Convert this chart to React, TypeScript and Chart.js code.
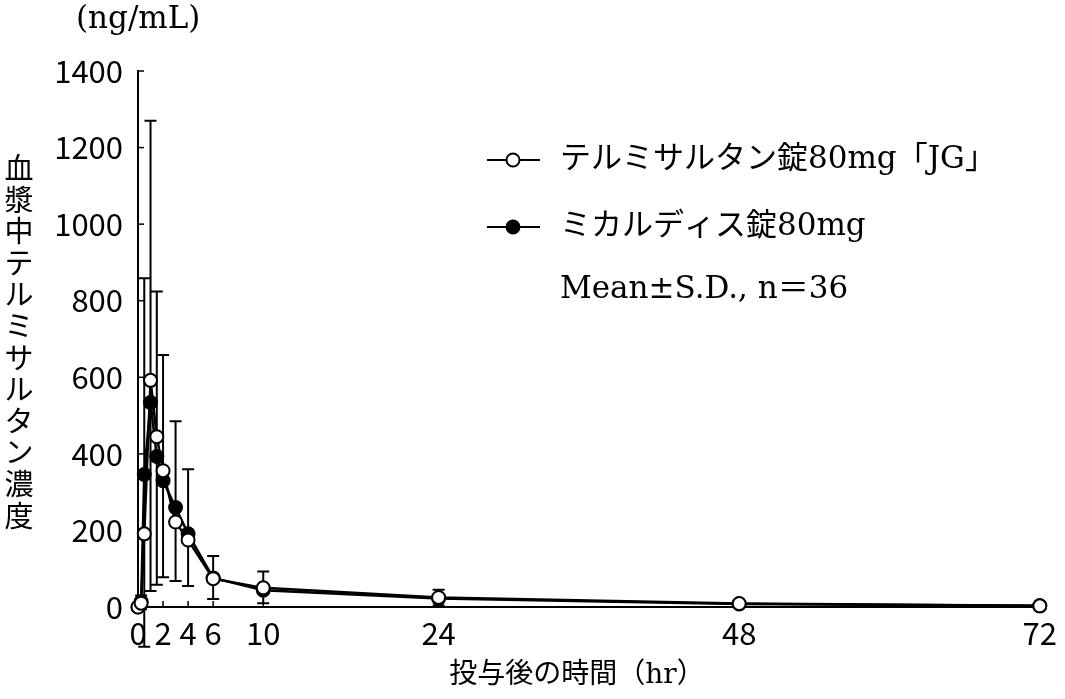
import React, { useEffect, useRef } from "react";
import { Chart, registerables } from "chart.js";

Chart.register(...registerables);

// ---- data ----
const TIMES = [0, 0.25, 0.5, 1, 1.5, 2, 3, 4, 6, 10, 24, 48, 72];
const JG_MEAN = [0, 10, 191, 592, 445, 356, 222, 175, 74, 50, 25, 9, 3];
const JG_SD = [0, 20, 668, 678, 379, 302, 263, 185, 59, 43, 20, 6, 3];
const MIC_MEAN = [0, 14, 346, 534, 393, 330, 260, 191, 76, 44, 22, 8, 3];
const MIC_SD = [0, 20, 450, 492, 335, 252, 192, 136, 55, 34, 18, 5, 3];

const X_TICKS = [0, 2, 4, 6, 10, 24, 48, 72];
const Y_MIN = 0;
const Y_MAX = 1400;
const Y_STEP = 200;

const SERIES_LABELS = ["テルミサルタン錠80mg「JG」", "ミカルディス錠80mg"];
const NOTE_TEXT = "Mean±S.D., n＝36";
const Y_TITLE = "血漿中テルミサルタン濃度";
const Y_UNIT = "(ng/mL)";
const X_TITLE = "投与後の時間（hr）";

const MIX_FONT = "'DejaVu Serif', 'Noto Sans CJK JP'";
const CJK_FONT = "'Noto Sans CJK JP'";

const decorPlugin = {
  id: "decor",
  beforeDatasetsDraw(chart: any) {
    const { ctx } = chart;
    const xs = chart.scales.x;
    const ys = chart.scales.y;
    ctx.save();
    ctx.strokeStyle = "#000";
    ctx.lineWidth = 2;
    const bar = (t: number, m: number, e: number) => {
      const x = xs.getPixelForValue(t);
      const y0 = ys.getPixelForValue(m);
      const y1 = ys.getPixelForValue(e);
      ctx.beginPath();
      ctx.moveTo(x, y0);
      ctx.lineTo(x, y1);
      ctx.moveTo(x - 6, y1);
      ctx.lineTo(x + 6, y1);
      ctx.stroke();
    };
    TIMES.forEach((t, i) => {
      if (JG_SD[i] > 0) bar(t, JG_MEAN[i], JG_MEAN[i] + JG_SD[i]);
      if (MIC_SD[i] > 0) bar(t, MIC_MEAN[i], MIC_MEAN[i] - MIC_SD[i]);
    });
    // inward tick marks
    ctx.lineWidth = 1.5;
    X_TICKS.forEach((v) => {
      const x = xs.getPixelForValue(v);
      ctx.beginPath();
      ctx.moveTo(x, ys.bottom);
      ctx.lineTo(x, ys.bottom - 6);
      ctx.stroke();
    });
    ys.ticks.forEach((tk: any) => {
      const y = ys.getPixelForValue(tk.value);
      ctx.beginPath();
      ctx.moveTo(xs.left, y);
      ctx.lineTo(xs.left + 6, y);
      ctx.stroke();
    });
    ctx.restore();
  },
  afterDraw(chart: any) {
    const { ctx } = chart;
    ctx.save();
    ctx.fillStyle = "#000";
    ctx.strokeStyle = "#000";
    // unit
    ctx.font = `31px ${MIX_FONT}`;
    ctx.textAlign = "left";
    ctx.textBaseline = "middle";
    ctx.fillText(Y_UNIT, 76, 20);
    // vertical y title
    ctx.font = `29px ${CJK_FONT}`;
    ctx.textAlign = "center";
    Array.from(Y_TITLE).forEach((ch, i) => {
      ctx.fillText(ch, 19, 168 + i * 31.6);
    });
    // x title
    ctx.font = `28px ${MIX_FONT}`;
    ctx.fillText(X_TITLE, 577, 676);
    // legend
    const rows = [160, 227];
    rows.forEach((y, i) => {
      ctx.lineWidth = 2;
      ctx.beginPath();
      ctx.moveTo(487, y);
      ctx.lineTo(540, y);
      ctx.stroke();
      ctx.beginPath();
      ctx.arc(513, y, 6.5, 0, Math.PI * 2);
      ctx.fillStyle = i === 0 ? "#fff" : "#000";
      ctx.fill();
      ctx.stroke();
      ctx.fillStyle = "#000";
      ctx.font = `31px ${MIX_FONT}`;
      ctx.textAlign = "left";
      ctx.fillText(SERIES_LABELS[i], 560, y);
    });
    ctx.fillText(NOTE_TEXT, 560, 290);
    ctx.restore();
  },
};

export default function App() {
  const ref = useRef<HTMLCanvasElement | null>(null);
  useEffect(() => {
    if (!ref.current) return;
    const chart = new Chart(ref.current, {
      type: "line",
      data: {
        datasets: [
          {
            label: SERIES_LABELS[0],
            data: TIMES.map((t, i) => ({ x: t, y: JG_MEAN[i] })),
            borderColor: "#000",
            borderWidth: 2.5,
            pointRadius: 6.5,
            pointBorderWidth: 2,
            pointBackgroundColor: "#fff",
            pointBorderColor: "#000",
            tension: 0,
            clip: false as any,
          },
          {
            label: SERIES_LABELS[1],
            data: TIMES.map((t, i) => ({ x: t, y: MIC_MEAN[i] })),
            borderColor: "#000",
            borderWidth: 2.5,
            pointRadius: 6.5,
            pointBorderWidth: 2,
            pointBackgroundColor: "#000",
            pointBorderColor: "#000",
            tension: 0,
            clip: false as any,
          },
        ],
      },
      options: {
        responsive: false,
        animation: false,
        layout: { padding: { left: 0, top: 71, right: 22, bottom: 0 } },
        plugins: { legend: { display: false }, tooltip: { enabled: false } },
        scales: {
          x: {
            type: "linear",
            min: 0,
            max: 72,
            afterBuildTicks: (s: any) => {
              s.ticks = X_TICKS.map((v) => ({ value: v }));
            },
            afterFit: (s: any) => {
              s.height = 92;
            },
            grid: { display: false, drawTicks: false },
            border: { display: true, color: "#000", width: 2 },
            ticks: {
              color: "#000",
              padding: 8,
              autoSkip: false,
              maxRotation: 0,
              callback: (v: any) => String(v),
              font: { family: CJK_FONT, size: 31 },
            },
          },
          y: {
            type: "linear",
            min: Y_MIN,
            max: Y_MAX,
            afterFit: (s: any) => {
              s.width = 138;
            },
            grid: { display: false, drawTicks: false },
            border: { display: true, color: "#000", width: 2 },
            ticks: {
              stepSize: Y_STEP,
              color: "#000",
              padding: 15,
              callback: (v: any) => String(v),
              font: { family: CJK_FONT, size: 31 },
            },
          },
        },
      },
      plugins: [decorPlugin],
    });
    return () => chart.destroy();
  }, []);
  return (
    <div style={{ position: "absolute", left: 0, top: 0, width: 1065, height: 699, background: "#fff" }}>
      <canvas ref={ref} width={1065} height={699} style={{ display: "block" }} />
    </div>
  );
}
